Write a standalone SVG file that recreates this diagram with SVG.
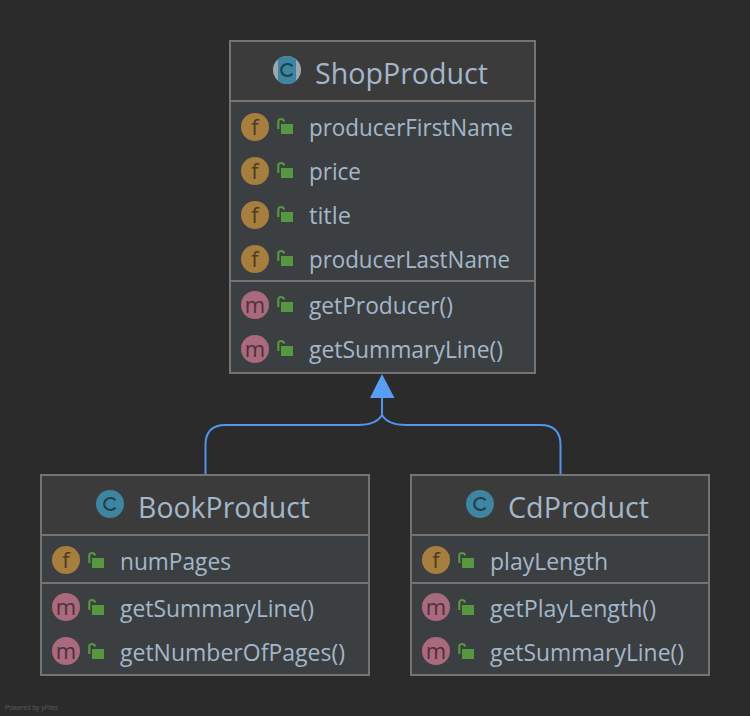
<svg xmlns="http://www.w3.org/2000/svg" xmlns:xlink="http://www.w3.org/1999/xlink" width="750" height="716" viewBox="0 0 750 716">
<style>
text{font-family:"Open Sans","Noto Sans","Liberation Sans",sans-serif}
.box{fill:#3c3f41;stroke:none}
.head{fill:#3b3b3b;stroke:none}
.frame{fill:none;stroke:#747474;stroke-width:2}
.sep{stroke:#747474;stroke-width:2;fill:none}
.title{font-size:29px;fill:#a4b7ca}
.row{font-size:23px;fill:#a4b7ca}
.cf{fill:#a67f3f}
.cm{fill:#aa6a7d}
.cc{fill:#3d85a0}
.ig{font-size:22px;text-anchor:middle}
.igf{fill:#4f3b1e}
.igm{fill:#4e2f39}
.igc{fill:none;stroke:#243f4c;stroke-width:2.200}
.edge{fill:none;stroke:#5394ec;stroke-width:2}
.arrow{fill:#589df6}
</style>
<defs>
<g id="lock">
<rect x="4" y="6" width="12" height="10" fill="#55983f"/>
<path d="M1.300 11V3.500C1.300 1.800 2.500 1 4 1S6.800 1.800 7.200 3.500" fill="none" stroke="#55983f" stroke-width="2.200"/>
</g>
<path id="cg" class="igc" d="M5.500-3.600A6.300 6 0 1 0 5.500 3.600"/>
</defs>
<rect width="750" height="716" fill="#2b2b2b"/>
<g id="connectors">
<path class="edge" d="M205.500 474V445Q205.500 425 225.500 425H358Q376 425 382 415V398"/>
<path class="edge" d="M560.500 474V445Q560.500 425 540.500 425H406Q388 425 382 415"/>
<polygon class="arrow" points="382,374 394.500,398 370,398"/>
</g>
<g id="ShopProduct">
<rect class="box" x="230" y="41" width="305" height="332"/>
<rect class="head" x="230" y="41" width="305" height="60"/>
<rect class="frame" x="230" y="41" width="305" height="332"/>
<path class="sep" d="M230 101H535M230 281H535"/>
<circle cx="287" cy="70" r="14" fill="#9aa7b0"/>
<path class="cc" d="M278 59.300A14 14 0 0 1 296 59.300V80.700A14 14 0 0 1 278 80.700Z"/>
<use href="#cg" x="287" y="70"/>
<text class="title" x="315" y="84" textLength="173" lengthAdjust="spacingAndGlyphs">ShopProduct</text>
<circle class="cf" cx="255" cy="127" r="14"/><text class="ig igf" x="255" y="135">f</text><use href="#lock" x="277" y="118"/><text class="row" x="309" y="136" textLength="204" lengthAdjust="spacingAndGlyphs">producerFirstName</text>
<circle class="cf" cx="255" cy="171" r="14"/><text class="ig igf" x="255" y="179">f</text><use href="#lock" x="277" y="162"/><text class="row" x="309" y="180" textLength="52" lengthAdjust="spacingAndGlyphs">price</text>
<circle class="cf" cx="255" cy="215" r="14"/><text class="ig igf" x="255" y="223">f</text><use href="#lock" x="277" y="206"/><text class="row" x="309" y="224" textLength="42" lengthAdjust="spacingAndGlyphs">title</text>
<circle class="cf" cx="255" cy="259" r="14"/><text class="ig igf" x="255" y="267">f</text><use href="#lock" x="277" y="250"/><text class="row" x="309" y="268" textLength="201" lengthAdjust="spacingAndGlyphs">producerLastName</text>
<circle class="cm" cx="255" cy="305" r="14"/><text class="ig igm" x="255" y="313">m</text><use href="#lock" x="277" y="296"/><text class="row" x="309" y="314" textLength="144" lengthAdjust="spacingAndGlyphs">getProducer()</text>
<circle class="cm" cx="255" cy="349" r="14"/><text class="ig igm" x="255" y="357">m</text><use href="#lock" x="277" y="340"/><text class="row" x="309" y="358" textLength="194" lengthAdjust="spacingAndGlyphs">getSummaryLine()</text>
</g>
<g id="BookProduct">
<rect class="box" x="41" y="475" width="328" height="200"/>
<rect class="head" x="41" y="475" width="328" height="60"/>
<rect class="frame" x="41" y="475" width="328" height="200"/>
<path class="sep" d="M41 535H369M41 583H369"/>
<circle class="cc" cx="110" cy="504" r="14"/>
<use href="#cg" x="110" y="504"/>
<text class="title" x="138" y="518" textLength="172" lengthAdjust="spacingAndGlyphs">BookProduct</text>
<circle class="cf" cx="66" cy="560" r="14"/><text class="ig igf" x="66" y="568">f</text><use href="#lock" x="88" y="552"/><text class="row" x="120" y="570" textLength="111" lengthAdjust="spacingAndGlyphs">numPages</text>
<circle class="cm" cx="66" cy="607" r="14"/><text class="ig igm" x="66" y="615">m</text><use href="#lock" x="88" y="599"/><text class="row" x="120" y="617" textLength="194" lengthAdjust="spacingAndGlyphs">getSummaryLine()</text>
<circle class="cm" cx="66" cy="651" r="14"/><text class="ig igm" x="66" y="659">m</text><use href="#lock" x="88" y="643"/><text class="row" x="120" y="661" textLength="225" lengthAdjust="spacingAndGlyphs">getNumberOfPages()</text>
</g>
<g id="CdProduct">
<rect class="box" x="411" y="475" width="298" height="200"/>
<rect class="head" x="411" y="475" width="298" height="60"/>
<rect class="frame" x="411" y="475" width="298" height="200"/>
<path class="sep" d="M411 535H709M411 583H709"/>
<circle class="cc" cx="480" cy="504" r="14"/>
<use href="#cg" x="480" y="504"/>
<text class="title" x="508" y="518" textLength="141" lengthAdjust="spacingAndGlyphs">CdProduct</text>
<circle class="cf" cx="436" cy="560" r="14"/><text class="ig igf" x="436" y="568">f</text><use href="#lock" x="458" y="552"/><text class="row" x="490" y="570" textLength="118" lengthAdjust="spacingAndGlyphs">playLength</text>
<circle class="cm" cx="436" cy="607" r="14"/><text class="ig igm" x="436" y="615">m</text><use href="#lock" x="458" y="599"/><text class="row" x="490" y="617" textLength="166" lengthAdjust="spacingAndGlyphs">getPlayLength()</text>
<circle class="cm" cx="436" cy="651" r="14"/><text class="ig igm" x="436" y="659">m</text><use href="#lock" x="458" y="643"/><text class="row" x="490" y="661" textLength="194" lengthAdjust="spacingAndGlyphs">getSummaryLine()</text>
</g>
<text x="5" y="710" font-size="6.500" fill="#5a5a5a" style="font-family:'Liberation Sans',sans-serif">Powered by yFiles</text>
</svg>
